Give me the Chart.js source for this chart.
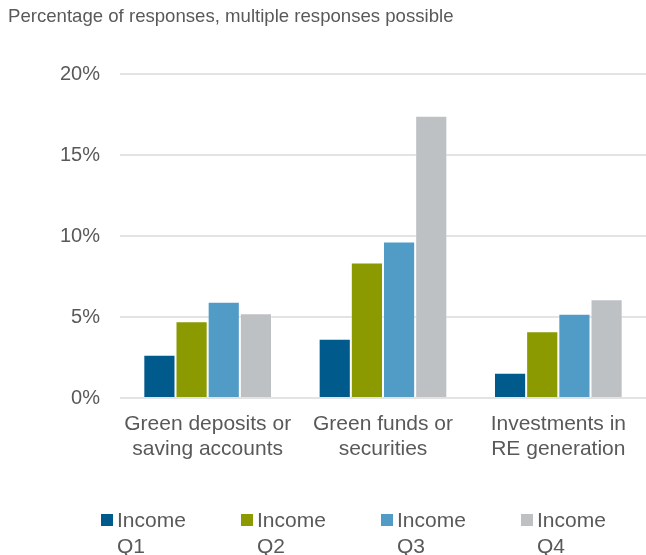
<!DOCTYPE html>
<html>
<head>
<meta charset="utf-8">
<script src="https://cdn.jsdelivr.net/npm/chart.js@4/dist/chart.umd.min.js"></script>
<style>
  html, body { margin: 0; padding: 0; background: #fff; }
  #wrap { position: relative; width: 646px; height: 555px; overflow: hidden; font-family: "Liberation Sans", Arial, sans-serif; color: #595959; }
  #title { position: absolute; left: 8px; top: 4px; font-size: 18.6px; line-height: 24px; white-space: nowrap; }
  #chart { position: absolute; left: 0; top: 0; }
  .item { position: absolute; top: 507px; font-size: 21px; line-height: 26px; padding-left: 16px; }
  .item .box { position: absolute; left: 0; top: 7px; width: 12px; height: 12px; }
</style>
</head>
<body>
<div id="wrap">
  <canvas id="chart" width="646" height="555"></canvas>
  <div id="title">Percentage of responses, multiple responses possible</div>
  <div id="legend"></div>
</div>
<script>
// Categories and per-quartile shares (%)
const categories = [
  ['Green deposits or', 'saving accounts'],
  ['Green funds or', 'securities'],
  ['Investments in', 'RE generation']
];
const seriesNames = ['Income Q1', 'Income Q2', 'Income Q3', 'Income Q4'];
const incomeQ1 = [2.67, 3.65, 1.56];
const incomeQ2 = [4.74, 8.36, 4.12];
const incomeQ3 = [5.94, 9.66, 5.20];
const incomeQ4 = [5.23, 17.42, 6.10];
const yTicks = [0, 5, 10, 15, 20];

const colors = ['#005A8C', '#8A9A00', '#519CC6', '#BEC1C4'];
const values = [incomeQ1, incomeQ2, incomeQ3, incomeQ4];

const textColor = '#595959';
const fontFamily = '"Liberation Sans", Arial, sans-serif';

const datasets = seriesNames.map((name, i) => ({
  label: name,
  data: values[i],
  backgroundColor: colors[i],
  borderColor: 'rgba(255,255,255,0.25)',
  borderWidth: 1,
  categoryPercentage: 0.734,
  barPercentage: 1.0
}));

new Chart(document.getElementById('chart'), {
  type: 'bar',
  data: { labels: categories, datasets: datasets },
  options: {
    responsive: false,
    animation: false,
    layout: { padding: { top: 74, left: 0, right: 0, bottom: 57 } },
    plugins: {
      legend: { display: false },
      title: { display: false },
      tooltip: { enabled: false }
    },
    scales: {
      x: {
        grid: { display: false },
        border: { display: false },
        ticks: {
          color: textColor,
          font: { family: fontFamily, size: 21, lineHeight: 1.19 },
          padding: 6,
          maxRotation: 0,
          autoSkip: false
        },
        afterFit: (s) => { s.height = 100; }
      },
      y: {
        min: 0,
        max: 20,
        afterBuildTicks: (s) => { s.ticks = yTicks.map(v => ({ value: v })); },
        grid: { color: '#E3E3E3', lineWidth: 2, drawTicks: false },
        border: { display: false },
        ticks: {
          color: textColor,
          font: { family: fontFamily, size: 20 },
          padding: 20,
          callback: (v) => v + '%'
        },
        afterFit: (s) => { s.width = 120; }
      }
    }
  }
});

// Two-line legend under the plot
const legend = document.getElementById('legend');
const legendLeft = [101, 241, 381, 521];
seriesNames.forEach((name, i) => {
  const parts = name.split(' ');
  const el = document.createElement('div');
  el.className = 'item';
  el.style.left = legendLeft[i] + 'px';
  el.innerHTML = '<span class="box" style="background:' + colors[i] + '"></span>' +
    parts[0] + '<br>' + parts[1];
  legend.appendChild(el);
});
</script>
</body>
</html>
